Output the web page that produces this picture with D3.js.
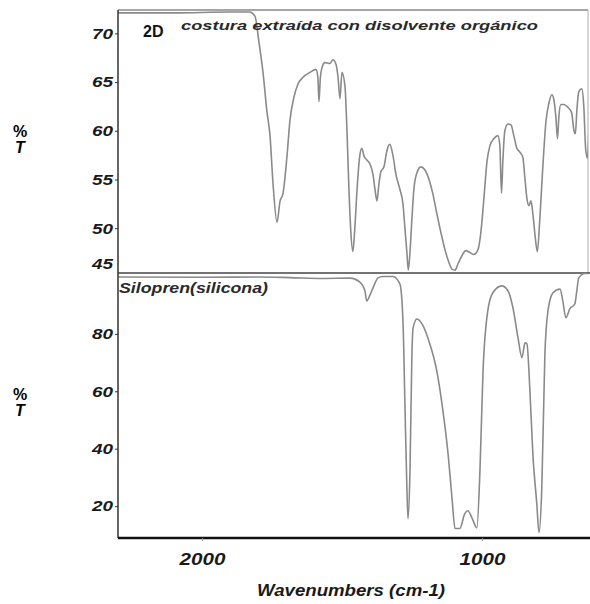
<!DOCTYPE html>
<html><head><meta charset="utf-8">
<script src="https://cdn.jsdelivr.net/npm/d3@7"></script>
<style>body{margin:0;background:#fff}svg{display:block}</style>
</head><body>
<svg id="c" width="590" height="604"></svg>
<script>
const xTicks = [2000, 1000];
const upperTicks = [45, 50, 55, 60, 65, 70];
const lowerTicks = [20, 40, 60, 80];

const upperWavenumbers = [2300,2100,1900,1830,1811,1796,1782,1768,1757,1746,1732,1721,1711,1696,1686,1671,1657,1639,1614,1593,1586,1582,1577,1571,1561,1543,1532,1521,1514,1507,1500,1489,1482,1475,1468,1461,1454,1446,1436,1429,1421,1411,1400,1389,1382,1375,1368,1361,1350,1339,1329,1318,1307,1293,1282,1275,1268,1263,1257,1250,1243,1232,1218,1204,1189,1175,1161,1146,1132,1118,1107,1096,1086,1071,1057,1043,1029,1014,1004,993,982,971,957,943,936,930,925,918,907,896,886,875,864,854,846,839,832,825,818,811,802,793,782,771,761,750,743,736,730,725,718,707,696,686,679,671,666,661,654,643,636,629,623,618];
const upperT = [72.1,72.1,72.2,72.2,71.8,69,66,62,59.5,54.5,50.6,52.8,53.5,57.5,61,63.5,64.8,65.5,66,66.3,65.5,63.0,65.5,66.5,67,66.9,67.3,66.8,65.5,63.3,66,64.5,60,54,49.5,47.6,50,54,57.5,58.2,57.4,57,56.6,55.5,54,52.8,54.5,55.8,56.3,58,58.6,57.5,55.5,54,52.5,50,47.5,45.7,47.5,51,54,55.7,56.3,56,55,53.5,51.5,49.5,47.8,46.5,45.8,45.7,46.3,47.2,47.7,47.5,47.3,47.8,49.5,53,56.8,58.5,59.2,59.5,58.5,53.6,57,60,60.7,60.6,59.5,58.2,57.8,57.3,55,53,52.3,52.8,51.5,49.5,47.6,51,56.5,61,62.8,63.7,63.2,61.5,59.2,61.5,62.7,62.7,62.5,62.2,61.8,60,59.7,62,64,64.3,62.5,58,57.2,60];

const lowerWavenumbers = [2300,2000,1800,1686,1568,1471,1436,1418,1411,1400,1389,1371,1354,1318,1293,1282,1275,1268,1264,1257,1250,1246,1232,1214,1186,1161,1139,1121,1107,1096,1079,1061,1050,1036,1018,1007,996,979,961,929,907,889,871,857,846,839,829,818,804,796,786,775,764,746,721,711,700,686,668,661,654,632,618];
const lowerT = [99.8,99.7,99.8,99.6,99.3,99.4,98,95,91.5,93.5,96,99.5,100,100,97.4,84.5,55.6,26.4,15.6,32,73,82,85.2,83.5,76.5,67,53,38.3,23,12.2,12.2,17.4,18.4,16,12.5,32.3,67,88,94.3,96.7,95,89,78.6,71.7,76.9,76.5,61.2,38.2,20.9,10.8,26.4,73,88,94.3,95.6,91.5,85.6,88.7,90.4,95,99.5,101,101];

const svg = d3.select('#c');
const L = 118, R = 588, T1 = 10, B1 = 273, T2 = 273, B2 = 538;

const x = d3.scaleLinear().domain([2300, 621]).range([L, R]);
const yU = d3.scaleLinear().domain([45.4, 72.4]).range([B1, T1]);
const yL = d3.scaleLinear().domain([8.9, 101.2]).range([B2, T2]);

const defs = svg.append('defs');
defs.append('clipPath').attr('id','cu').append('rect').attr('x',L).attr('y',T1).attr('width',R-L).attr('height',B1-T1);
defs.append('clipPath').attr('id','cl').append('rect').attr('x',L).attr('y',T2).attr('width',R-L).attr('height',B2-T2);

const FF = '"Liberation Sans", Arial, sans-serif';
const fontTick = `bold italic 15px ${FF}`;

// frames
svg.append('line').attr('x1',L).attr('x2',R).attr('y1',T1).attr('y2',T1).attr('stroke','#888').attr('stroke-width',1.3);
svg.append('line').attr('x1',R).attr('x2',R).attr('y1',T1).attr('y2',B1).attr('stroke','#aaa').attr('stroke-width',1);
svg.append('line').attr('x1',L).attr('x2',590).attr('y1',B1).attr('y2',B1).attr('stroke','#444').attr('stroke-width',1.5);

// lines
const lineU = d3.line().x((d,i)=>x(upperWavenumbers[i])).y(d=>yU(d)).curve(d3.curveMonotoneX);
const lineL = d3.line().x((d,i)=>x(lowerWavenumbers[i])).y(d=>yL(d)).curve(d3.curveMonotoneX);
svg.append('path').attr('clip-path','url(#cu)').attr('d', lineU(upperT)).attr('fill','none').attr('stroke','#8a8a8a').attr('stroke-width',1.6);
svg.append('path').attr('clip-path','url(#cl)').attr('d', lineL(lowerT)).attr('fill','none').attr('stroke','#8a8a8a').attr('stroke-width',1.6);

// y axes
const upperTickVals = upperTicks.filter(v=>v>yU.domain()[0]);
const axU = svg.append('g').attr('transform',`translate(${L},0)`).call(d3.axisLeft(yU).tickValues(upperTickVals).tickSize(3).tickPadding(2));
const axL = svg.append('g').attr('transform',`translate(${L},0)`).call(d3.axisLeft(yL).tickValues(lowerTicks).tickSize(3).tickPadding(2));
[axU, axL].forEach(a=>{
  a.select('.domain').attr('stroke','#333').attr('stroke-width',1.5);
  a.selectAll('.tick line').attr('stroke','#333');
  a.selectAll('.tick text').style('font', fontTick).attr('fill','#1a1a1a').attr('textLength',21).attr('lengthAdjust','spacingAndGlyphs');
});
axU.select('.domain').attr('d',`M0,${T1}V${B1}`);
axL.select('.domain').attr('d',`M0,${T2}V${B2}`);
// the 45 label sits just above the panel divider in the original
axU.append('text').attr('x',-5).attr('y',yU(45.4)-4).attr('text-anchor','end').style('font',fontTick).attr('fill','#1a1a1a')
  .attr('textLength',21).attr('lengthAdjust','spacingAndGlyphs').text(upperTicks[0]);

// x axis
const axX = svg.append('g').attr('transform',`translate(0,${B2})`).call(d3.axisBottom(x).tickValues(xTicks).tickSize(3).tickPadding(12).tickFormat(d3.format('d')));
axX.select('.domain').attr('stroke','#111').attr('stroke-width',2.5).attr('d',`M${L},0H590`);
axX.selectAll('.tick line').attr('stroke','#999');
axX.selectAll('.tick text').style('font', `bold italic 17px ${FF}`).attr('fill','#1a1a1a').attr('textLength',46).attr('lengthAdjust','spacingAndGlyphs');

// labels
const lbl = `bold 16px ${FF}`;
const lblI = `bold italic 16px ${FF}`;
svg.append('text').attr('x',20).attr('y',137).attr('text-anchor','middle').style('font',lbl).text('%');
svg.append('text').attr('x',20).attr('y',153).attr('text-anchor','middle').style('font',lblI).text('T');
svg.append('text').attr('x',20).attr('y',400).attr('text-anchor','middle').style('font',lbl).text('%');
svg.append('text').attr('x',20).attr('y',416).attr('text-anchor','middle').style('font',lblI).text('T');

svg.append('text').attr('x',351).attr('y',596).attr('text-anchor','middle').attr('textLength',188).attr('lengthAdjust','spacingAndGlyphs')
  .style('font',`bold italic 17px ${FF}`).attr('fill','#1a1a1a').text('Wavenumbers (cm-1)');

svg.append('text').attr('x',143).attr('y',37).style('font',`bold 16px ${FF}`).attr('fill','#111').text('2D');
svg.append('text').attr('x',181).attr('y',30).attr('textLength',357).attr('lengthAdjust','spacingAndGlyphs').style('font',`bold italic 13px ${FF}`).attr('fill','#2a2a2a').text('costura extraída con disolvente orgánico');
svg.append('text').attr('x',119).attr('y',293).attr('textLength',149).attr('lengthAdjust','spacingAndGlyphs').style('font',`bold italic 14px ${FF}`).attr('fill','#2a2a2a').text('Silopren(silicona)');
</script>
</body></html>
